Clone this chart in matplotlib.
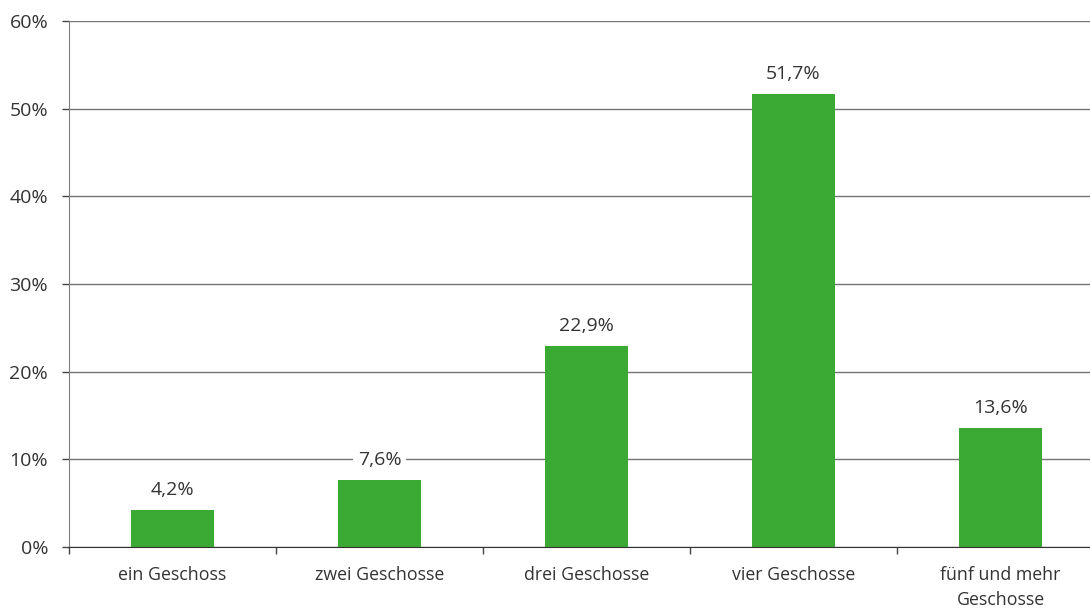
import matplotlib
matplotlib.use("Agg")
import matplotlib.pyplot as plt
from matplotlib.ticker import FuncFormatter, FixedLocator

categories = ["ein Geschoss", "zwei Geschosse", "drei Geschosse",
              "vier Geschosse", "fünf und mehr\nGeschosse"]
values = [4.2, 7.6, 22.9, 51.7, 13.6]
y_ticks = [0, 10, 20, 30, 40, 50, 60]

plt.rcParams["font.family"] = ["Open Sans", "DejaVu Sans"]
text_color = "#333333"
bar_color = "#3aaa35"

fig = plt.figure(figsize=(10.9, 6.09), dpi=100)
ax = fig.add_axes([69 / 1090, 62 / 609, (1104 - 69) / 1090, (547 - 21) / 609])

x = list(range(len(categories)))
ax.bar(x, values, width=0.4, color=bar_color, zorder=3)

ax.set_xlim(-0.5, len(categories) - 0.5)
ax.set_ylim(0, 60)
ax.yaxis.set_major_locator(FixedLocator(y_ticks))
ax.yaxis.set_major_formatter(FuncFormatter(lambda v, p: f"{v:.0f}%"))
ax.grid(axis="y", color="#747474", linewidth=1.0, zorder=0)

# category boundary ticks on the x axis, labels centred under the bars
ax.set_xticks([i - 0.5 for i in range(len(categories) + 1)])
ax.set_xticklabels([])
ax.set_xticks(x, minor=True)
ax.set_xticklabels(categories, minor=True, fontsize=12.8, color=text_color,
                   linespacing=1.45)
ax.tick_params(axis="x", which="minor", length=0, pad=14)
ax.tick_params(axis="x", which="major", length=5, width=1, color="#444444")
ax.tick_params(axis="y", length=5, width=1, color="#444444",
               labelsize=14, labelcolor=text_color, pad=10)

for s in ["top", "right"]:
    ax.spines[s].set_visible(False)
ax.spines["left"].set_color("#7f7f7f")
ax.spines["bottom"].set_color("#333333")
ax.spines["bottom"].set_zorder(4)

for xi, v in zip(x, values):
    ax.annotate(f"{v:.1f}%".replace(".", ","), (xi, v), xytext=(0, 8),
                textcoords="offset points", ha="center", va="bottom",
                fontsize=14, color=text_color, zorder=5,
                bbox=dict(boxstyle="square,pad=0.25", fc="white", ec="none"))

fig.savefig("out.png", dpi=100)
